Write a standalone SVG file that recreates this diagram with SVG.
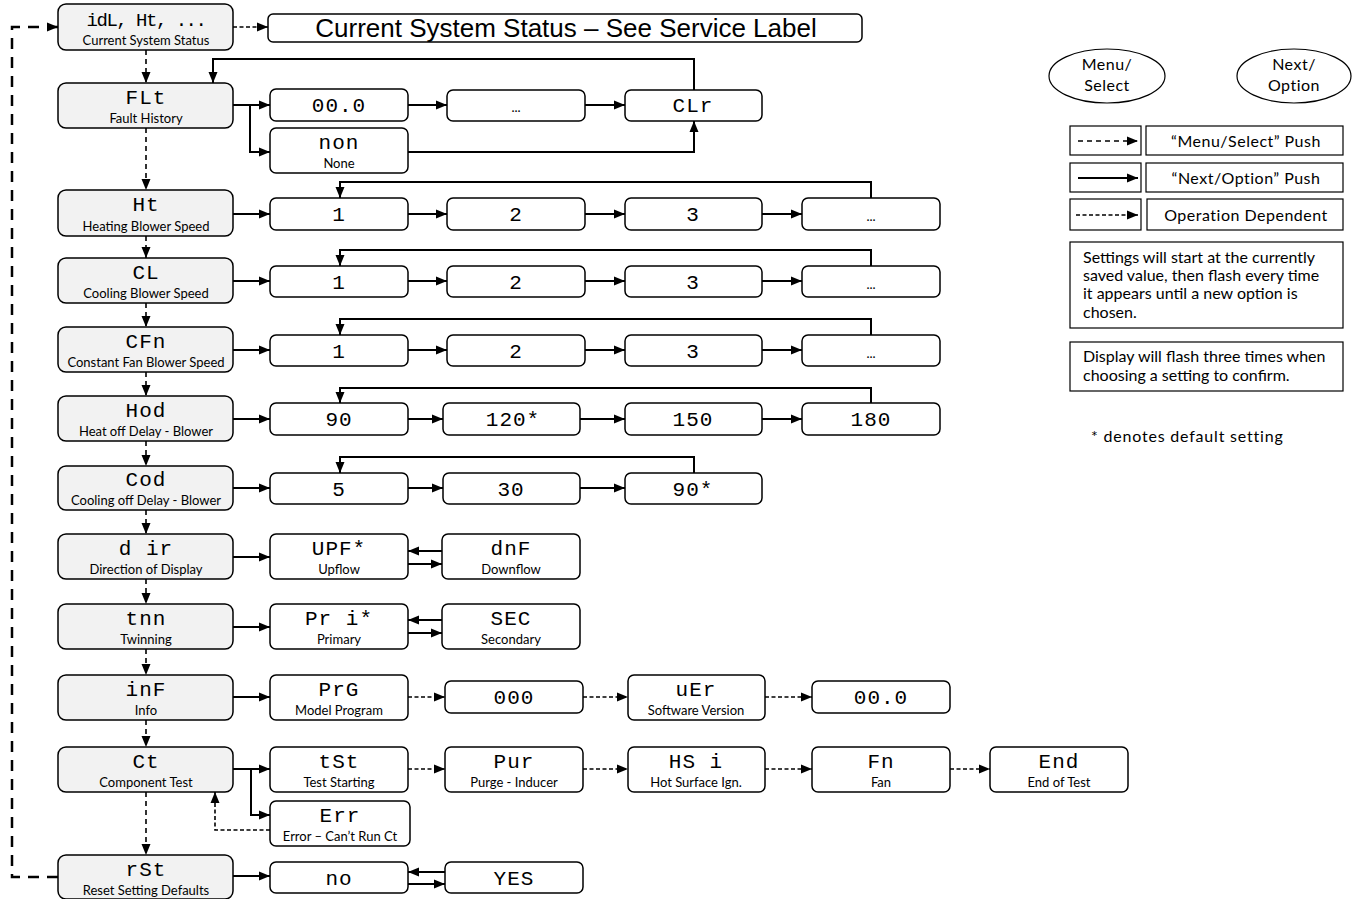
<svg xmlns="http://www.w3.org/2000/svg" width="1353" height="899" viewBox="0 0 1353 899">
<style>
.nd{fill:#f2f2f2;stroke:#000;stroke-width:1.5}
.op{fill:#fff;stroke:#000;stroke-width:1.5}
.lg{fill:#fff;stroke:#000;stroke-width:1.2}
.seg{font-family:"Liberation Mono","DejaVu Sans Mono",monospace;font-size:21px;text-anchor:middle;fill:#000;letter-spacing:1px}
.sub{font-family:Lato,"Open Sans",sans-serif;font-size:13px;text-anchor:middle;fill:#000}
.lt{font-family:Lato,"Open Sans",sans-serif;font-size:16px;fill:#000}
.ln{stroke:#000;stroke-width:2;fill:none}
.ms{stroke:#000;stroke-width:1.6;fill:none;stroke-dasharray:5 4}
.od{stroke:#000;stroke-width:1.6;fill:none;stroke-dasharray:4 2.5}
.lp{stroke:#000;stroke-width:2.5;fill:none;stroke-dasharray:11 8}
</style>
<defs>
<marker id="ah" markerUnits="userSpaceOnUse" markerWidth="12" markerHeight="10" refX="11" refY="5" orient="auto"><path d="M0,0.5 L11,5 L0,9.5 z" fill="#000"/></marker>
</defs>
<rect width="1353" height="899" fill="#fff"/>

<g id="connectors">
<path class="ms" d="M146,50 V83" marker-end="url(#ah)"/>
<path class="ms" d="M146,128 V190" marker-end="url(#ah)"/>
<path class="ms" d="M146,236 V258" marker-end="url(#ah)"/>
<path class="ms" d="M146,303 V327" marker-end="url(#ah)"/>
<path class="ms" d="M146,372 V396" marker-end="url(#ah)"/>
<path class="ms" d="M146,441 V466" marker-end="url(#ah)"/>
<path class="ms" d="M146,510 V534" marker-end="url(#ah)"/>
<path class="ms" d="M146,579 V604" marker-end="url(#ah)"/>
<path class="ms" d="M146,649 V675" marker-end="url(#ah)"/>
<path class="ms" d="M146,720 V747" marker-end="url(#ah)"/>
<path class="ms" d="M146,792 V855" marker-end="url(#ah)"/>
<path class="lp" d="M58,877 H12 V27 H58" marker-end="url(#ah)"/>
<path class="od" d="M233,27 H268" marker-end="url(#ah)"/>
<path class="ln" d="M233,105 H250 V152 H270" marker-end="url(#ah)"/>
<path class="ln" d="M250,105 H270" marker-end="url(#ah)"/>
<path class="ln" d="M408,105 H447" marker-end="url(#ah)"/>
<path class="ln" d="M585,105 H625" marker-end="url(#ah)"/>
<path class="ln" d="M694,90 V59 H213 V83" marker-end="url(#ah)"/>
<path class="ln" d="M408,152 H694 V121" marker-end="url(#ah)"/>
<path class="ln" d="M233,214 H270" marker-end="url(#ah)"/>
<path class="ln" d="M408,214 H447" marker-end="url(#ah)"/>
<path class="ln" d="M585,214 H625" marker-end="url(#ah)"/>
<path class="ln" d="M762,214 H802" marker-end="url(#ah)"/>
<path class="ln" d="M871,198 V182 H340 V198" marker-end="url(#ah)"/>
<path class="ln" d="M233,281 H270" marker-end="url(#ah)"/>
<path class="ln" d="M408,281 H447" marker-end="url(#ah)"/>
<path class="ln" d="M585,281 H625" marker-end="url(#ah)"/>
<path class="ln" d="M762,281 H802" marker-end="url(#ah)"/>
<path class="ln" d="M871,266 V250 H340 V266" marker-end="url(#ah)"/>
<path class="ln" d="M233,350 H270" marker-end="url(#ah)"/>
<path class="ln" d="M408,350 H447" marker-end="url(#ah)"/>
<path class="ln" d="M585,350 H625" marker-end="url(#ah)"/>
<path class="ln" d="M762,350 H802" marker-end="url(#ah)"/>
<path class="ln" d="M871,335 V319 H340 V335" marker-end="url(#ah)"/>
<path class="ln" d="M233,419 H270" marker-end="url(#ah)"/>
<path class="ln" d="M408,419 H443" marker-end="url(#ah)"/>
<path class="ln" d="M580,419 H625" marker-end="url(#ah)"/>
<path class="ln" d="M762,419 H802" marker-end="url(#ah)"/>
<path class="ln" d="M871,403 V388 H340 V403" marker-end="url(#ah)"/>
<path class="ln" d="M233,488 H270" marker-end="url(#ah)"/>
<path class="ln" d="M408,488 H443" marker-end="url(#ah)"/>
<path class="ln" d="M580,488 H625" marker-end="url(#ah)"/>
<path class="ln" d="M694,473 V457 H340 V473" marker-end="url(#ah)"/>
<path class="ln" d="M233,557 H270" marker-end="url(#ah)"/>
<path class="ln" d="M442,551 H408" marker-end="url(#ah)"/>
<path class="ln" d="M408,564 H442" marker-end="url(#ah)"/>
<path class="ln" d="M233,627 H270" marker-end="url(#ah)"/>
<path class="ln" d="M442,620 H408" marker-end="url(#ah)"/>
<path class="ln" d="M408,633 H442" marker-end="url(#ah)"/>
<path class="ln" d="M233,697 H270" marker-end="url(#ah)"/>
<path class="od" d="M408,697 H445" marker-end="url(#ah)"/>
<path class="od" d="M583,697 H628" marker-end="url(#ah)"/>
<path class="od" d="M765,697 H812" marker-end="url(#ah)"/>
<path class="ln" d="M233,769 H251 V815 H270" marker-end="url(#ah)"/>
<path class="ln" d="M251,769 H270" marker-end="url(#ah)"/>
<path class="od" d="M408,769 H445" marker-end="url(#ah)"/>
<path class="od" d="M583,769 H628" marker-end="url(#ah)"/>
<path class="od" d="M765,769 H812" marker-end="url(#ah)"/>
<path class="od" d="M950,769 H990" marker-end="url(#ah)"/>
<path class="od" d="M270,830 H215 V792" marker-end="url(#ah)"/>
<path class="ln" d="M233,876 H270" marker-end="url(#ah)"/>
<path class="ln" d="M445,872 H408" marker-end="url(#ah)"/>
<path class="ln" d="M408,884 H445" marker-end="url(#ah)"/>
</g>

<g id="n-status"><rect class="nd" x="58" y="4" width="175" height="46" rx="8"/><text class="seg" x="146" y="26" style="font-size:19px;letter-spacing:-1.5px">idL, Ht, ...</text><text class="sub" x="146" y="45">Current System Status</text></g>
<g id="n-status-label"><rect class="op" x="268" y="14" width="594" height="28" rx="5"/><text x="566" y="37" font-family="'Liberation Sans',Arial,sans-serif" font-size="26" text-anchor="middle">Current System Status – See Service Label</text></g>
<g id="n-flt"><rect class="nd" x="58" y="83" width="175" height="45" rx="8"/><text class="seg" x="146" y="104">FLt</text><text class="sub" x="146" y="123">Fault History</text></g>
<g id="n-ht"><rect class="nd" x="58" y="190" width="175" height="46" rx="8"/><text class="seg" x="146" y="211">Ht</text><text class="sub" x="146" y="231">Heating Blower Speed</text></g>
<g id="n-cl"><rect class="nd" x="58" y="258" width="175" height="45" rx="8"/><text class="seg" x="146" y="279">CL</text><text class="sub" x="146" y="298">Cooling Blower Speed</text></g>
<g id="n-cfn"><rect class="nd" x="58" y="327" width="175" height="45" rx="8"/><text class="seg" x="146" y="348">CFn</text><text class="sub" x="146" y="367">Constant Fan Blower Speed</text></g>
<g id="n-hod"><rect class="nd" x="58" y="396" width="175" height="45" rx="8"/><text class="seg" x="146" y="417">Hod</text><text class="sub" x="146" y="436">Heat off Delay - Blower</text></g>
<g id="n-cod"><rect class="nd" x="58" y="466" width="175" height="44" rx="8"/><text class="seg" x="146" y="486">Cod</text><text class="sub" x="146" y="505">Cooling off Delay - Blower</text></g>
<g id="n-dir"><rect class="nd" x="58" y="534" width="175" height="45" rx="8"/><text class="seg" x="146" y="555">d ir</text><text class="sub" x="146" y="574">Direction of Display</text></g>
<g id="n-tnn"><rect class="nd" x="58" y="604" width="175" height="45" rx="8"/><text class="seg" x="146" y="625">tnn</text><text class="sub" x="146" y="644">Twinning</text></g>
<g id="n-inf"><rect class="nd" x="58" y="675" width="175" height="45" rx="8"/><text class="seg" x="146" y="696">inF</text><text class="sub" x="146" y="715">Info</text></g>
<g id="n-ct"><rect class="nd" x="58" y="747" width="175" height="45" rx="8"/><text class="seg" x="146" y="768">Ct</text><text class="sub" x="146" y="787">Component Test</text></g>
<g id="n-rst"><rect class="nd" x="58" y="855" width="175" height="44" rx="8"/><text class="seg" x="146" y="876">rSt</text><text class="sub" x="146" y="895">Reset Setting Defaults</text></g>

<g id="o-flt-1"><rect class="op" x="270" y="89" width="138" height="32" rx="6"/><text class="seg" x="339" y="112">00.0</text></g>
<g id="o-flt-2"><rect class="op" x="447" y="90" width="138" height="31" rx="6"/><text class="sub" x="516" y="112">...</text></g>
<g id="o-flt-clr"><rect class="op" x="625" y="90" width="137" height="31" rx="6"/><text class="seg" x="693" y="112">CLr</text></g>
<g id="o-flt-non"><rect class="op" x="270" y="128" width="138" height="45" rx="6"/><text class="seg" x="339" y="149">non</text><text class="sub" x="339" y="168">None</text></g>

<g id="o-ht-1"><rect class="op" x="270" y="198" width="138" height="32" rx="6"/><text class="seg" x="339" y="221">1</text></g>
<g id="o-ht-2"><rect class="op" x="447" y="198" width="138" height="32" rx="6"/><text class="seg" x="516" y="221">2</text></g>
<g id="o-ht-3"><rect class="op" x="625" y="198" width="137" height="32" rx="6"/><text class="seg" x="693" y="221">3</text></g>
<g id="o-ht-4"><rect class="op" x="802" y="198" width="138" height="32" rx="6"/><text class="sub" x="871" y="221">...</text></g>

<g id="o-cl-1"><rect class="op" x="270" y="266" width="138" height="31" rx="6"/><text class="seg" x="339" y="289">1</text></g>
<g id="o-cl-2"><rect class="op" x="447" y="266" width="138" height="31" rx="6"/><text class="seg" x="516" y="289">2</text></g>
<g id="o-cl-3"><rect class="op" x="625" y="266" width="137" height="31" rx="6"/><text class="seg" x="693" y="289">3</text></g>
<g id="o-cl-4"><rect class="op" x="802" y="266" width="138" height="31" rx="6"/><text class="sub" x="871" y="289">...</text></g>

<g id="o-cfn-1"><rect class="op" x="270" y="335" width="138" height="31" rx="6"/><text class="seg" x="339" y="358">1</text></g>
<g id="o-cfn-2"><rect class="op" x="447" y="335" width="138" height="31" rx="6"/><text class="seg" x="516" y="358">2</text></g>
<g id="o-cfn-3"><rect class="op" x="625" y="335" width="137" height="31" rx="6"/><text class="seg" x="693" y="358">3</text></g>
<g id="o-cfn-4"><rect class="op" x="802" y="335" width="138" height="31" rx="6"/><text class="sub" x="871" y="358">...</text></g>

<g id="o-hod-90"><rect class="op" x="270" y="403" width="138" height="32" rx="6"/><text class="seg" x="339" y="426">90</text></g>
<g id="o-hod-120"><rect class="op" x="443" y="403" width="137" height="32" rx="6"/><text class="seg" x="513" y="426">120*</text></g>
<g id="o-hod-150"><rect class="op" x="625" y="403" width="137" height="32" rx="6"/><text class="seg" x="693" y="426">150</text></g>
<g id="o-hod-180"><rect class="op" x="802" y="403" width="138" height="32" rx="6"/><text class="seg" x="871" y="426">180</text></g>

<g id="o-cod-5"><rect class="op" x="270" y="473" width="138" height="31" rx="6"/><text class="seg" x="339" y="496">5</text></g>
<g id="o-cod-30"><rect class="op" x="443" y="473" width="137" height="31" rx="6"/><text class="seg" x="511" y="496">30</text></g>
<g id="o-cod-90"><rect class="op" x="625" y="473" width="137" height="31" rx="6"/><text class="seg" x="693" y="496">90*</text></g>

<g id="o-dir-upf"><rect class="op" x="270" y="534" width="138" height="45" rx="6"/><text class="seg" x="339" y="555">UPF*</text><text class="sub" x="339" y="574">Upflow</text></g>
<g id="o-dir-dnf"><rect class="op" x="442" y="534" width="138" height="45" rx="6"/><text class="seg" x="511" y="555">dnF</text><text class="sub" x="511" y="574">Downflow</text></g>

<g id="o-tnn-pri"><rect class="op" x="270" y="604" width="138" height="45" rx="6"/><text class="seg" x="339" y="625">Pr i*</text><text class="sub" x="339" y="644">Primary</text></g>
<g id="o-tnn-sec"><rect class="op" x="442" y="604" width="138" height="45" rx="6"/><text class="seg" x="511" y="625">SEC</text><text class="sub" x="511" y="644">Secondary</text></g>

<g id="o-inf-prg"><rect class="op" x="270" y="675" width="138" height="45" rx="6"/><text class="seg" x="339" y="696">PrG</text><text class="sub" x="339" y="715">Model Program</text></g>
<g id="o-inf-000"><rect class="op" x="445" y="681" width="138" height="32" rx="6"/><text class="seg" x="514" y="704">000</text></g>
<g id="o-inf-ver"><rect class="op" x="628" y="675" width="137" height="45" rx="6"/><text class="seg" x="696" y="696">uEr</text><text class="sub" x="696" y="715">Software Version</text></g>
<g id="o-inf-00"><rect class="op" x="812" y="681" width="138" height="32" rx="6"/><text class="seg" x="881" y="704">00.0</text></g>

<g id="o-ct-tst"><rect class="op" x="270" y="747" width="138" height="45" rx="6"/><text class="seg" x="339" y="768">tSt</text><text class="sub" x="339" y="787">Test Starting</text></g>
<g id="o-ct-pur"><rect class="op" x="445" y="747" width="138" height="45" rx="6"/><text class="seg" x="514" y="768">Pur</text><text class="sub" x="514" y="787">Purge - Inducer</text></g>
<g id="o-ct-hsi"><rect class="op" x="628" y="747" width="137" height="45" rx="6"/><text class="seg" x="696" y="768">HS i</text><text class="sub" x="696" y="787">Hot Surface Ign.</text></g>
<g id="o-ct-fn"><rect class="op" x="812" y="747" width="138" height="45" rx="6"/><text class="seg" x="881" y="768">Fn</text><text class="sub" x="881" y="787">Fan</text></g>
<g id="o-ct-end"><rect class="op" x="990" y="747" width="138" height="45" rx="6"/><text class="seg" x="1059" y="768">End</text><text class="sub" x="1059" y="787">End of Test</text></g>
<g id="o-ct-err"><rect class="op" x="270" y="801" width="140" height="45" rx="6"/><text class="seg" x="340" y="822">Err</text><text class="sub" x="340" y="841">Error – Can’t Run Ct</text></g>

<g id="o-rst-no"><rect class="op" x="270" y="862" width="138" height="31" rx="6"/><text class="seg" x="339" y="885">no</text></g>
<g id="o-rst-yes"><rect class="op" x="445" y="862" width="138" height="31" rx="6"/><text class="seg" x="514" y="885">YES</text></g>

<g id="legend">
<ellipse class="lg" cx="1107" cy="76" rx="58" ry="27"/>
<text class="lt" x="1107" y="70" text-anchor="middle" letter-spacing="0.5">Menu/</text>
<text class="lt" x="1107" y="91" text-anchor="middle" letter-spacing="0.5">Select</text>
<ellipse class="lg" cx="1294" cy="76" rx="57" ry="27"/>
<text class="lt" x="1294" y="70" text-anchor="middle" letter-spacing="0.5">Next/</text>
<text class="lt" x="1294" y="91" text-anchor="middle" letter-spacing="0.5">Option</text>
<rect class="lg" x="1070" y="126" width="71" height="29"/>
<rect class="lg" x="1146" y="126" width="197" height="29"/>
<path class="ms" d="M1078,141 H1138" marker-end="url(#ah)"/>
<text class="lt" x="1246" y="147" text-anchor="middle" letter-spacing="0.5">“Menu/Select” Push</text>
<rect class="lg" x="1070" y="163" width="71" height="29"/>
<rect class="lg" x="1146" y="163" width="197" height="29"/>
<path class="ln" d="M1078,178 H1138" marker-end="url(#ah)"/>
<text class="lt" x="1246" y="184" text-anchor="middle" letter-spacing="0.5">“Next/Option” Push</text>
<rect class="lg" x="1070" y="199" width="71" height="31"/>
<rect class="lg" x="1147" y="199" width="196" height="31"/>
<path class="od" d="M1076,215 H1138" marker-end="url(#ah)"/>
<text class="lt" x="1246" y="221" text-anchor="middle" letter-spacing="0.5">Operation Dependent</text>
<rect class="lg" x="1070" y="242" width="273" height="86"/>
<text class="lt" font-size="14.5" x="1083" y="263">Settings will start at the currently</text>
<text class="lt" font-size="14.5" x="1083" y="281">saved value, then flash every time</text>
<text class="lt" font-size="14.5" x="1083" y="299">it appears until a new option is</text>
<text class="lt" font-size="14.5" x="1083" y="318">chosen.</text>
<rect class="lg" x="1070" y="342" width="273" height="49"/>
<text class="lt" font-size="14.5" x="1083" y="362">Display will flash three times when</text>
<text class="lt" font-size="14.5" x="1083" y="381">choosing a setting to confirm.</text>
<text class="lt" font-size="17" x="1091" y="442" letter-spacing="0.8">* denotes default setting</text>
</g>
</svg>
